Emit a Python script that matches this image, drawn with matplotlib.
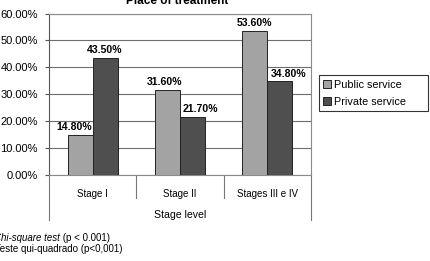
import matplotlib
matplotlib.use("Agg")
import matplotlib.pyplot as plt
from matplotlib.transforms import blended_transform_factory
from matplotlib.patches import Patch
import numpy as np

categories = ["Stage I", "Stage II", "Stages III e IV"]
public_vals = [14.8, 31.6, 53.6]
private_vals = [43.5, 21.7, 34.8]
series_names = ["Public service", "Private service"]
yticks = [0, 10, 20, 30, 40, 50, 60]
title = "Place of treatment"
xlabel = "Stage level"

plt.rcParams['font.family'] = ['Liberation Sans', 'DejaVu Sans']

W, H = 431, 261
fig = plt.figure(figsize=(W / 100, H / 100), dpi=100)
left, right, bot, top = 49, 311, 175, 13.5
ax = fig.add_axes([left / W, 1 - bot / H, (right - left) / W, (bot - top) / H])

x = np.arange(len(categories))
bw = 0.285
c_pub, c_priv = '#a3a3a3', '#4f4f4f'
ax.bar(x - bw / 2, public_vals, bw, color=c_pub, edgecolor='#222222', linewidth=0.7, zorder=3)
ax.bar(x + bw / 2, private_vals, bw, color=c_priv, edgecolor='#222222', linewidth=0.7, zorder=3)

pub_dx = [-4, -2, 0]
priv_dx = [0, 6, 6]
for i, v in enumerate(public_vals):
    ax.annotate(f"{v:.2f}%", (x[i] - bw / 2, v), xytext=(pub_dx[i], 2), textcoords='offset points',
                ha='center', va='bottom', fontsize=7.6, fontweight='bold')
for i, v in enumerate(private_vals):
    ax.annotate(f"{v:.2f}%", (x[i] + bw / 2, v), xytext=(priv_dx[i], 2), textcoords='offset points',
                ha='center', va='bottom', fontsize=7.6, fontweight='bold')

ax.set_xlim(-0.5, len(categories) - 0.5)
ax.set_ylim(0, 60)
ax.set_yticks(yticks)
ax.set_yticklabels([f"{t:.2f}%" for t in yticks], fontsize=8)
ax.tick_params(axis='y', length=3, width=0.8, color='#555555', pad=5)
ax.set_xticks([])
ax.grid(axis='y', color='#6e6e6e', linewidth=0.8, zorder=0)
for s in ['top', 'right', 'bottom']:
    ax.spines[s].set_color('#8a8a8a')
    ax.spines[s].set_linewidth(0.8)
ax.spines['left'].set_color('#555555')
ax.spines['left'].set_linewidth(0.8)

# category table below axis
ph = bot - top
tr = blended_transform_factory(ax.transData, ax.transAxes)
for xs in [0.5, 1.5]:
    ax.plot([xs, xs], [0, -(198 - bot) / ph], transform=tr, color='#777777', lw=0.8, clip_on=False)
for xs in [-0.5, len(categories) - 0.5]:
    ax.plot([xs, xs], [0, -(220 - bot) / ph], transform=tr, color='#777777', lw=0.8, clip_on=False)
for i, c in enumerate(categories):
    ax.text(x[i], -(194 - bot) / ph, c, transform=tr, ha='center', va='center', fontsize=7)
ax.text(1, -(215 - bot) / ph, xlabel, transform=tr, ha='center', va='center', fontsize=7.6)

fig.text(177 / W, 1 - 1.5 / H, title, ha='center', va='center', fontsize=8.5, fontweight='bold')

leg = fig.legend(handles=[Patch(facecolor=c_pub, edgecolor='#222222', linewidth=0.7),
                          Patch(facecolor=c_priv, edgecolor='#222222', linewidth=0.7)],
                 labels=series_names, loc='upper left',
                 bbox_to_anchor=(319 / W, 1 - 110.7 / H, 109 / W, 35.2 / H), mode='expand',
                 fontsize=7.8, frameon=True, fancybox=False, edgecolor='black',
                 handlelength=0.7, handleheight=0.7, handletextpad=0.3, labelspacing=0.62,
                 borderpad=0.4, borderaxespad=0)
leg.get_frame().set_linewidth(0.8)

t1 = fig.text(-6 / W, 1 - 238 / H, "Chi-square test", ha='left', va='center', fontsize=7, style='italic')
plt.annotate(" (p < 0.001)", xy=(1, 0.5), xycoords=t1, ha='left', va='center',
             fontsize=7, annotation_clip=False)
fig.text(-5 / W, 1 - 249 / H, "Teste qui-quadrado (p<0,001)", ha='left', va='center', fontsize=7)

fig.savefig("out.png", dpi=100)
